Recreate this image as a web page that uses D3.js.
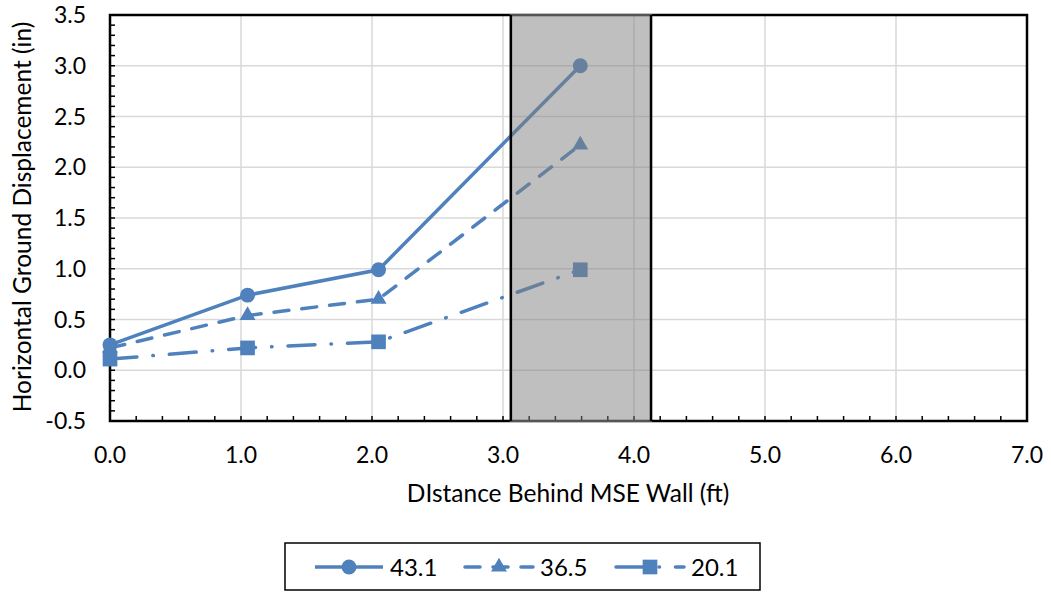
<!DOCTYPE html>
<html><head><meta charset="utf-8">
<script src="https://cdn.jsdelivr.net/npm/d3@7"></script>
<style>body{margin:0;background:#fff}text{font-family:Lato,"Open Sans",sans-serif;fill:#000}</style>
</head><body><svg id="c" width="1051" height="592"></svg>
<script>
const xVals = [0.0, 1.05, 2.05, 3.59];
const s431 = [0.25, 0.74, 0.99, 3.0];
const s365 = [0.22, 0.54, 0.70, 2.22];
const s201 = [0.11, 0.22, 0.28, 0.99];
const seriesNames = ["43.1", "36.5", "20.1"];
const xTicks = [0,1,2,3,4,5,6,7];
const yTicks = [-0.5,0,0.5,1,1.5,2,2.5,3,3.5];
const shadeRange = [3.06, 4.13];

const svg = d3.select("#c");
const L=110, R=1027, T=15, B=421;
const x = d3.scaleLinear().domain([0,7]).range([L,R]);
const y = d3.scaleLinear().domain([-0.5,3.5]).range([B,T]);
const col = "#4f81bd";
const fmt = d => d.toFixed(1);

// gridlines
svg.append("g").selectAll("line").data(yTicks).join("line")
 .attr("x1",L).attr("x2",R).attr("y1",d=>y(d)).attr("y2",d=>y(d))
 .attr("stroke","#d9d9d9").attr("stroke-width",1.5);
svg.append("g").selectAll("line").data(xTicks).join("line")
 .attr("y1",T).attr("y2",B).attr("x1",d=>x(d)).attr("x2",d=>x(d))
 .attr("stroke","#d9d9d9").attr("stroke-width",1.5);

// minor ticks
const xMinor = d3.range(0,7.0001,0.2);
const yMinor = d3.range(-0.5,3.5001,0.1);
svg.append("g").selectAll("line").data(xMinor).join("line")
 .attr("x1",d=>x(d)).attr("x2",d=>x(d)).attr("y1",B).attr("y2",B-5)
 .attr("stroke","#000").attr("stroke-width",1.5);
svg.append("g").selectAll("line").data(yMinor).join("line")
 .attr("y1",d=>y(d)).attr("y2",d=>y(d)).attr("x1",L).attr("x2",L+5)
 .attr("stroke","#000").attr("stroke-width",1.5);

// frame
svg.append("rect").attr("x",L).attr("y",T).attr("width",R-L).attr("height",B-T)
 .attr("fill","none").attr("stroke","#000").attr("stroke-width",2.5);

const series = [
 {name:seriesNames[0], v:s431, dash:null, sym:d3.symbolCircle, size:175},
 {name:seriesNames[1], v:s365, dash:"15,13", sym:d3.symbolTriangle, size:110},
 {name:seriesNames[2], v:s201, dash:"27,16,0.5,16", sym:d3.symbolSquare, size:215}
];
const line = d3.line().x((d,i)=>x(xVals[i])).y(d=>y(d));
series.forEach(s=>{
 svg.append("path").attr("d",line(s.v)).attr("fill","none").attr("stroke",col)
  .attr("stroke-width",3.5).attr("stroke-dasharray",s.dash).attr("stroke-linecap", s.dash?"round":"butt");
 svg.append("g").selectAll("path").data(s.v).join("path")
  .attr("d",d3.symbol().type(s.sym).size(s.size))
  .attr("transform",(d,i)=>`translate(${x(xVals[i])},${y(d)})`).attr("fill",col);
});

// shaded region
const sx0=x(shadeRange[0]), sx1=x(shadeRange[1]);
svg.append("rect").attr("x",sx0).attr("y",T).attr("width",sx1-sx0).attr("height",B-T)
 .attr("fill","rgb(128,128,128)").attr("fill-opacity",0.5)
 .attr("stroke","#555").attr("stroke-width",2);
svg.append("line").attr("x1",sx0).attr("x2",sx0).attr("y1",T).attr("y2",B).attr("stroke","#000").attr("stroke-width",2.5);
svg.append("line").attr("x1",sx1).attr("x2",sx1).attr("y1",T).attr("y2",B).attr("stroke","#000").attr("stroke-width",2.5);

// tick labels
svg.append("g").selectAll("text").data(xTicks).join("text")
 .attr("x",d=>x(d)).attr("y",463).attr("text-anchor","middle").attr("font-size",23)
 .text(fmt);
svg.append("g").selectAll("text").data(yTicks).join("text")
 .attr("x",86).attr("y",d=>y(d)+8).attr("text-anchor","end").attr("font-size",23)
 .text(fmt);

// axis titles
svg.append("text").attr("x",568).attr("y",502).attr("text-anchor","middle").attr("font-size",24.5)
 .text("DIstance Behind MSE Wall (ft)");
svg.append("text").attr("transform","translate(31,217) rotate(-90)").attr("text-anchor","middle").attr("font-size",24.5)
 .text("Horizontal Ground Displacement (in)");

// legend
svg.append("rect").attr("x",285).attr("y",543).attr("width",475).attr("height",47)
 .attr("fill","#fff").attr("stroke","#000").attr("stroke-width",1.5);
const lx=[315,465,616];
series.forEach((s,i)=>{
 const g=svg.append("g").attr("transform",`translate(${lx[i]},567)`);
 g.append("line").attr("x1",0).attr("x2",68).attr("y1",0).attr("y2",0).attr("stroke",col)
  .attr("stroke-width",3.5).attr("stroke-dasharray",s.dash).attr("stroke-linecap",s.dash?"round":"butt");
 g.append("path").attr("d",d3.symbol().type(s.sym).size(s.size)).attr("transform","translate(34,0)").attr("fill",col);
 g.append("text").attr("x",75).attr("y",9).attr("font-size",24).text(s.name);
});
</script></body></html>
